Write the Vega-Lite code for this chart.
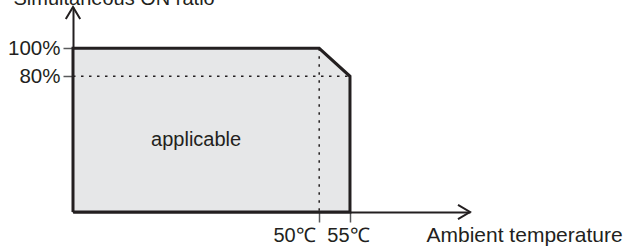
{
  "$schema": "https://vega.github.io/schema/vega-lite/v6.json",
  "autosize": "none",
  "padding": {"left": 73, "top": 7, "right": 154, "bottom": 36},
  "width": 397,
  "height": 205,
  "background": "white",
  "config": {
    "view": {"stroke": null},
    "font": "Liberation Sans",
    "text": {"font": "Liberation Sans"}
  },
  "datasets": {
    "top": [
      {"temp": 10, "ratio": 100},
      {"temp": 50, "ratio": 100},
      {"temp": 55, "ratio": 80}
    ],
    "outline": [
      {"temp": 10, "ratio": -17, "o": 0},
      {"temp": 10, "ratio": 100, "o": 1},
      {"temp": 50, "ratio": 100, "o": 2},
      {"temp": 55, "ratio": 80, "o": 3},
      {"temp": 55, "ratio": -17, "o": 4},
      {"temp": 10, "ratio": -17, "o": 5}
    ],
    "guides": [
      {"temp": 10, "temp2": 55, "ratio": 80, "ratio2": 80},
      {"temp": 50, "temp2": 50, "ratio": 100, "ratio2": -17}
    ],
    "arrows": [
      {"axis": "x", "temp": 74.5, "ratio": -17},
      {"axis": "y", "temp": 10, "ratio": 129.5}
    ],
    "labels": [
      {"temp": 30, "ratio": 30, "text": "applicable"}
    ]
  },
  "layer": [
    {
      "data": {"name": "top"},
      "mark": {"type": "area", "color": "#e6e7e8", "clip": false},
      "encoding": {
        "x": {
          "field": "temp", "type": "quantitative",
          "scale": {"domain": [10, 74.5], "nice": false, "zero": false},
          "axis": {
            "values": [50, 55],
            "labelExpr": "datum.value + '℃'",
            "title": "Ambient temperature",
            "titleX": 353, "titleY": 29.5,
            "titleAlign": "left", "titleBaseline": "alphabetic",
            "titleFontSize": 21, "titleFontWeight": "normal", "titleColor": "#231f20",
            "titleFont": "Liberation Sans",
            "labelFont": "Liberation Sans",
            "labelFontSize": 20, "labelColor": "#231f20",
            "labelAlign": {"condition": {"test": "datum.value == 50", "value": "right"}, "value": "center"},
            "labelOffset": {"condition": {"test": "datum.value == 50", "value": -4}, "value": -2},
            "labelPadding": 3, "labelBaseline": "top",
            "labelFlush": false, "labelOverlap": false,
            "tickSize": 10, "tickWidth": 1.5, "tickColor": "#58595b",
            "domainColor": "#231f20", "domainWidth": 2,
            "grid": false
          }
        },
        "y": {
          "field": "ratio", "type": "quantitative",
          "scale": {"domain": [-17, 129.5], "nice": false, "zero": false},
          "axis": {
            "values": [80, 100],
            "labelExpr": "datum.value + '%'",
            "title": "Simultaneous ON ratio",
            "titleAngle": 0, "titleX": -60, "titleY": -3,
            "titleAlign": "left", "titleBaseline": "alphabetic",
            "titleFontSize": 20, "titleFontWeight": "normal", "titleColor": "#231f20",
            "titleFont": "Liberation Sans",
            "labelFont": "Liberation Sans",
            "labelFontSize": 20.5, "labelColor": "#231f20",
            "labelPadding": 3, "labelBaseline": "middle",
            "labelFlush": false, "labelOverlap": false,
            "tickSize": 10, "tickWidth": 1.5, "tickColor": "#58595b",
            "domainColor": "#231f20", "domainWidth": 2,
            "grid": false
          }
        },
        "y2": {"datum": -17}
      }
    },
    {
      "data": {"name": "guides"},
      "mark": {"type": "rule", "color": "#231f20", "strokeWidth": 1.5, "strokeDash": [2.5, 5.5], "clip": false},
      "encoding": {
        "x": {"field": "temp", "type": "quantitative"},
        "x2": {"field": "temp2"},
        "y": {"field": "ratio", "type": "quantitative"},
        "y2": {"field": "ratio2"}
      }
    },
    {
      "data": {"name": "outline"},
      "mark": {"type": "line", "color": "#231f20", "strokeWidth": 3, "strokeJoin": "miter", "clip": false},
      "encoding": {
        "x": {"field": "temp", "type": "quantitative"},
        "y": {"field": "ratio", "type": "quantitative"},
        "order": {"field": "o", "type": "quantitative"}
      }
    },
    {
      "data": {"name": "arrows"},
      "mark": {"type": "point", "filled": false, "color": "#231f20", "strokeWidth": 2, "opacity": 1, "size": 576, "clip": false},
      "encoding": {
        "x": {"field": "temp", "type": "quantitative"},
        "y": {"field": "ratio", "type": "quantitative"},
        "shape": {
          "field": "axis", "type": "nominal",
          "scale": {"domain": ["x", "y"], "range": ["M -1 -0.6 L 0 0 L -1 0.6", "M -0.6 1 L 0 0 L 0.6 1"]},
          "legend": null
        }
      }
    },
    {
      "data": {"name": "labels"},
      "mark": {"type": "text", "fontSize": 20, "color": "#231f20", "align": "center", "baseline": "alphabetic", "font": "Liberation Sans"},
      "encoding": {
        "x": {"field": "temp", "type": "quantitative"},
        "y": {"field": "ratio", "type": "quantitative"},
        "text": {"field": "text"}
      }
    }
  ]
}
